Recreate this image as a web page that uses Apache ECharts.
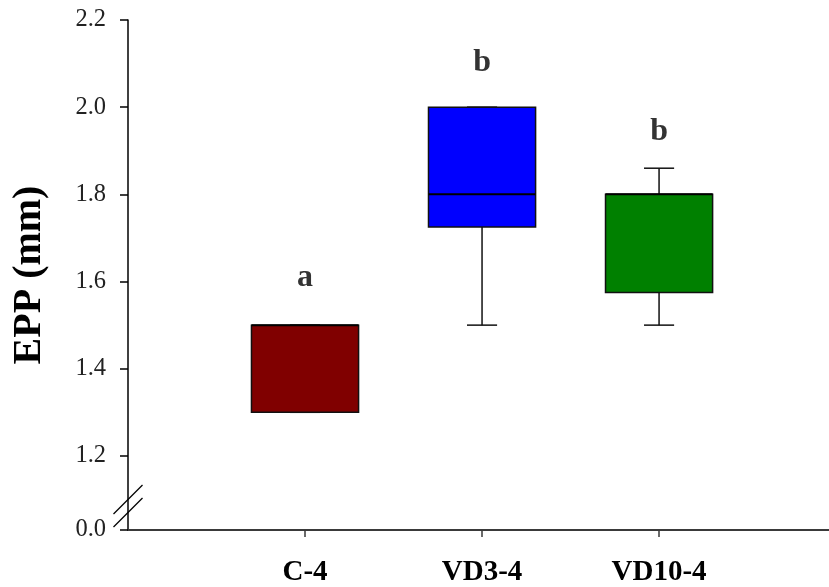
<!DOCTYPE html>
<html>
<head>
<meta charset="utf-8">
<script src="https://cdn.jsdelivr.net/npm/echarts@6/dist/echarts.min.js"></script>
<style>
html,body{margin:0;padding:0;background:#fff;}
#chart{width:829px;height:587px;}
</style>
</head>
<body>
<div id="chart"></div>
<script>
// ---- data ----
const categories = ['C-4', 'VD3-4', 'VD10-4'];
const categoryPos = [1, 2, 3];
// [min, Q1, median, Q3, max]
const boxMin    = [1.30, 1.50, 1.50];
const boxQ1     = [1.30, 1.725, 1.575];
const boxMedian = [1.50, 1.80, 1.80];
const boxQ3     = [1.50, 2.00, 1.80];
const boxMax    = [1.50, 2.00, 1.86];
const boxColors = ['#800000', '#0000ff', '#008000'];
const sigLetters = ['a', 'b', 'b'];
const sigLetterY = [1.608, 2.101, 1.943];
// y axis: broken axis, 0.0 drawn just below 1.2
const yTickValues = [1.03, 1.2, 1.4, 1.6, 1.8, 2.0, 2.2];
const yTickLabels = ['0.0', '1.2', '1.4', '1.6', '1.8', '2.0', '2.2'];
const yBreakValue = 1.085;

const boxData = categoryPos.map((x, i) => [x, boxMin[i], boxQ1[i], boxMedian[i], boxQ3[i], boxMax[i], i]);
const letterData = categoryPos.map((x, i) => [x, sigLetterY[i], sigLetters[i]]);

const chart = echarts.init(document.getElementById('chart'), null, {renderer: 'canvas'});

const serif = '"Liberation Serif", "DejaVu Serif", serif';

const option = {
  animation: false,
  backgroundColor: '#ffffff',
  grid: {left: 128, right: 0, top: 20, bottom: 56.5, containLabel: false},
  xAxis: {
    type: 'value',
    min: 0,
    max: 3.96,
    splitLine: {show: false},
    axisLine: {show: true, onZero: false, lineStyle: {color: '#3a3a3a', width: 2}},
    axisTick: {show: true, customValues: categoryPos, length: 7, lineStyle: {color: '#3a3a3a', width: 1.5}},
    axisLabel: {
      show: true,
      customValues: categoryPos,
      formatter: v => categories[Math.round(v) - 1] || '',
      fontFamily: serif, fontWeight: 'bold', fontSize: 29, color: '#000', margin: 28
    }
  },
  yAxis: {
    type: 'value',
    min: 1.03,
    max: 2.2,
    name: 'EPP (mm)',
    nameLocation: 'middle',
    nameGap: 78,
    nameTextStyle: {fontFamily: serif, fontWeight: 'bold', fontSize: 40, color: '#000'},
    splitLine: {show: false},
    axisLine: {show: true, onZero: false, lineStyle: {color: '#000', width: 1.5}},
    axisTick: {show: true, customValues: yTickValues, length: 8, lineStyle: {color: '#000', width: 1.5}},
    axisLabel: {
      show: true,
      customValues: yTickValues,
      formatter: v => {
        let best = 0;
        for (let i = 0; i < yTickValues.length; i++) {
          if (Math.abs(yTickValues[i] - v) < Math.abs(yTickValues[best] - v)) best = i;
        }
        return yTickLabels[best];
      },
      fontFamily: serif, fontSize: 24.5, color: '#222', margin: 22
    }
  },
  series: [
    {
      type: 'custom',
      data: boxData,
      encode: {x: 0, y: [1, 2, 3, 4, 5]},
      renderItem: function (params, api) {
        const x = api.value(0);
        const idx = api.value(6);
        const pMin = api.coord([x, api.value(1)]);
        const pQ1 = api.coord([x, api.value(2)]);
        const pMed = api.coord([x, api.value(3)]);
        const pQ3 = api.coord([x, api.value(4)]);
        const pMax = api.coord([x, api.value(5)]);
        const bw = api.size([0.605, 0])[0];
        const cw = api.size([0.17, 0])[0];
        const cx = pMed[0];
        const lineStyle = {stroke: '#111', lineWidth: 1.5};
        const children = [
          {type: 'line', shape: {x1: cx, y1: pMin[1], x2: cx, y2: pQ1[1]}, style: lineStyle},
          {type: 'line', shape: {x1: cx, y1: pQ3[1], x2: cx, y2: pMax[1]}, style: lineStyle},
          {type: 'line', shape: {x1: cx - cw / 2, y1: pMin[1], x2: cx + cw / 2, y2: pMin[1]}, style: lineStyle},
          {type: 'line', shape: {x1: cx - cw / 2, y1: pMax[1], x2: cx + cw / 2, y2: pMax[1]}, style: lineStyle},
          {type: 'rect', shape: {x: cx - bw / 2, y: pQ3[1], width: bw, height: pQ1[1] - pQ3[1]},
            style: {fill: boxColors[idx], stroke: '#111', lineWidth: 1.5}},
          {type: 'line', shape: {x1: cx - bw / 2, y1: pMed[1], x2: cx + bw / 2, y2: pMed[1]},
            style: {stroke: '#000', lineWidth: 2}}
        ];
        return {type: 'group', children: children};
      },
      z: 2
    },
    {
      type: 'scatter',
      data: letterData,
      symbolSize: 1,
      itemStyle: {color: 'rgba(0,0,0,0)'},
      label: {
        show: true,
        position: 'inside',
        formatter: p => p.data[2],
        fontFamily: serif, fontWeight: 'bold', fontSize: 32, color: '#000'
      },
      z: 3
    }
  ]
};

chart.setOption(option);

// axis break marks "//" on the y axis
const ax = chart.convertToPixel({xAxisIndex: 0}, 0);
const by = chart.convertToPixel({yAxisIndex: 0}, yBreakValue);
const half = 14.5;
const gap = 6.5;
chart.setOption({
  graphic: [
    {type: 'line', shape: {x1: ax - half, y1: by - gap + half, x2: ax + half, y2: by - gap - half},
      style: {stroke: '#000', lineWidth: 1.2}, z: 10},
    {type: 'line', shape: {x1: ax - half, y1: by + gap + half, x2: ax + half, y2: by + gap - half},
      style: {stroke: '#000', lineWidth: 1.2}, z: 10}
  ]
});
</script>
</body>
</html>
